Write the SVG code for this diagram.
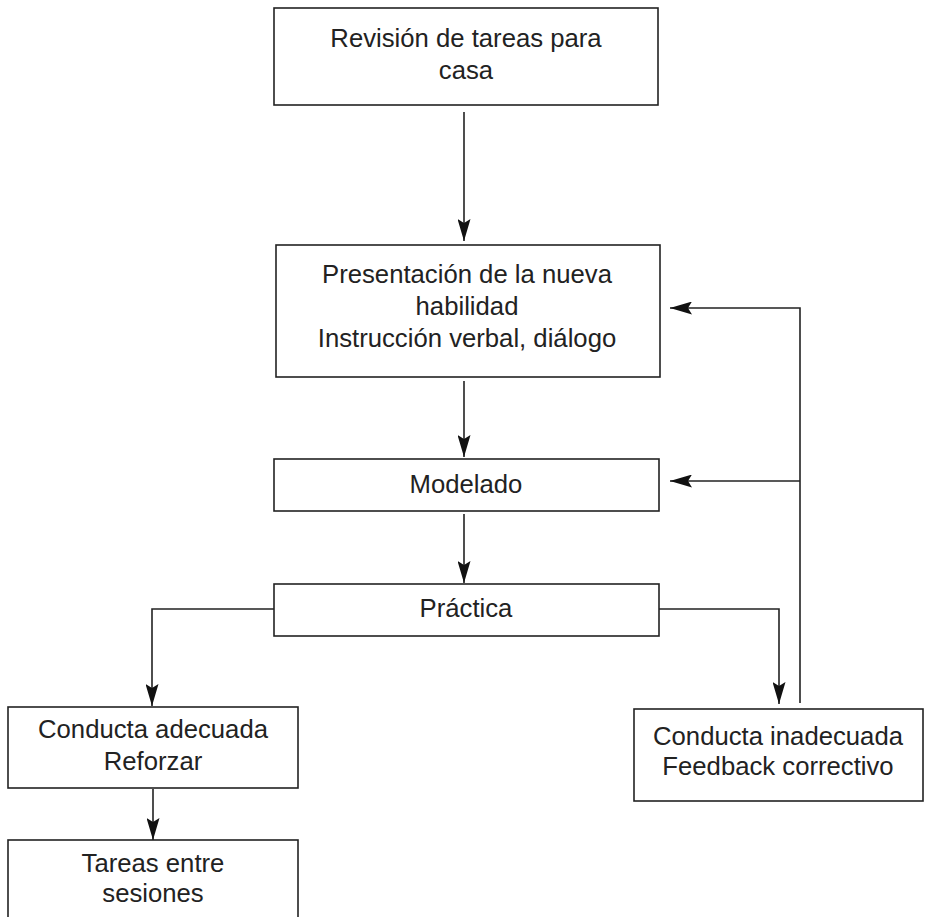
<svg xmlns="http://www.w3.org/2000/svg" width="934" height="917" viewBox="0 0 934 917">
<style>
.box{fill:#fff;stroke:#222;stroke-width:1.6}
.lbl{font-family:"Liberation Sans",Arial,Helvetica,sans-serif;font-size:25.7px;fill:#222;text-anchor:middle}
.con{fill:none;stroke:#222;stroke-width:1.6}
</style>
<defs>
<marker id="ah" viewBox="0 0 22 13" refX="22" refY="6.5" markerWidth="22" markerHeight="13" markerUnits="userSpaceOnUse" orient="auto">
<path d="M0,0 L22,6.5 L0,13 L4,6.5 z" fill="#111"/>
</marker>
</defs>
<rect width="934" height="917" fill="#fff"/>
<g id="connectors">
<path class="con" d="M464,112 V241" marker-end="url(#ah)"/>
<path class="con" d="M464,381 V457" marker-end="url(#ah)"/>
<path class="con" d="M464,514 V583" marker-end="url(#ah)"/>
<path class="con" d="M274,609 H152 V706" marker-end="url(#ah)"/>
<path class="con" d="M659,609 H779 V704" marker-end="url(#ah)"/>
<path class="con" d="M153,789 V840" marker-end="url(#ah)"/>
<path class="con" d="M800,703 V308 H670" marker-end="url(#ah)"/>
<path class="con" d="M800,481 H670" marker-end="url(#ah)"/>
</g>
<g id="n-revision">
<rect class="box" x="274" y="8" width="384" height="97"/>
<text class="lbl" x="466" y="47">Revisión de tareas para</text>
<text class="lbl" x="466" y="79">casa</text>
</g>
<g id="n-presentacion">
<rect class="box" x="276" y="245" width="384" height="132"/>
<text class="lbl" x="467" y="283">Presentación de la nueva</text>
<text class="lbl" x="467" y="315">habilidad</text>
<text class="lbl" x="467" y="347">Instrucción verbal, diálogo</text>
</g>
<g id="n-modelado">
<rect class="box" x="274" y="459" width="385" height="52"/>
<text class="lbl" x="466" y="493">Modelado</text>
</g>
<g id="n-practica">
<rect class="box" x="274" y="584" width="385" height="52"/>
<text class="lbl" x="466" y="617">Práctica</text>
</g>
<g id="n-adecuada">
<rect class="box" x="8" y="707" width="290" height="81"/>
<text class="lbl" x="153" y="738">Conducta adecuada</text>
<text class="lbl" x="153" y="770">Reforzar</text>
</g>
<g id="n-tareas">
<rect class="box" x="8" y="840" width="290" height="90"/>
<text class="lbl" x="153" y="872">Tareas entre</text>
<text class="lbl" x="153" y="902">sesiones</text>
</g>
<g id="n-inadecuada">
<rect class="box" x="634" y="709" width="289" height="92"/>
<text class="lbl" x="778" y="745">Conducta inadecuada</text>
<text class="lbl" x="778" y="775">Feedback correctivo</text>
</g>
</svg>
